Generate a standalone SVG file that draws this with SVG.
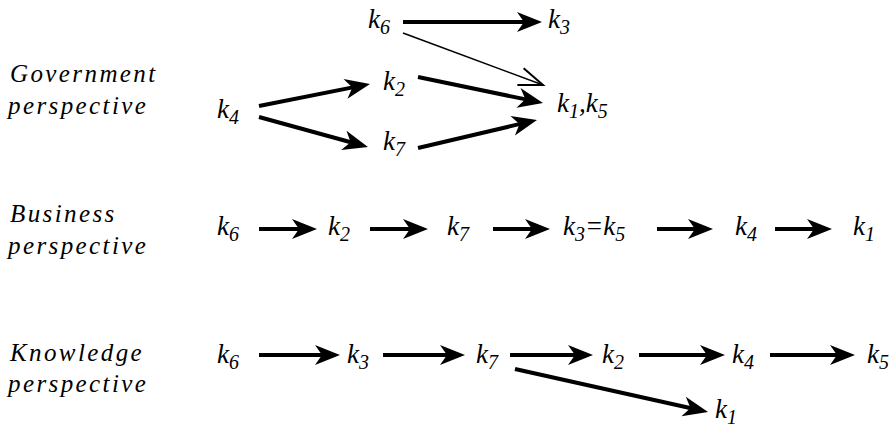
<svg xmlns="http://www.w3.org/2000/svg" width="892" height="432" viewBox="0 0 892 432">
<defs>
<marker id="ah" viewBox="-15 -12 32 24" markerWidth="32" markerHeight="24" refX="0" refY="0" markerUnits="userSpaceOnUse" orient="auto">
<path d="M15,0 L-10,-10 L-3,0 L-10,10 Z" fill="#000"/>
</marker>
<marker id="oh" viewBox="-30 -12 34 24" markerWidth="34" markerHeight="24" refX="0" refY="0" markerUnits="userSpaceOnUse" orient="auto">
<path d="M-24,-9 L0,0 L-24,9" fill="none" stroke="#000" stroke-width="2"/>
</marker>
</defs>
<rect width="892" height="432" fill="#fff"/>
<g id="labels" fill="#000">
<text x="10" y="82" font-family="Liberation Serif" font-style="italic" font-size="25" letter-spacing="2.4">Government</text>
<text x="8" y="114" font-family="Liberation Serif" font-style="italic" font-size="25" letter-spacing="2.4">perspective</text>
<text x="10" y="222" font-family="Liberation Serif" font-style="italic" font-size="25" letter-spacing="2.4">Business</text>
<text x="8" y="254" font-family="Liberation Serif" font-style="italic" font-size="25" letter-spacing="2.4">perspective</text>
<text x="10" y="361" font-family="Liberation Serif" font-style="italic" font-size="25" letter-spacing="2.4">Knowledge</text>
<text x="8" y="392" font-family="Liberation Serif" font-style="italic" font-size="25" letter-spacing="2.4">perspective</text>
</g>
<g fill="#000">
<g id="gov">
<g id="g-k6"><text x="368" y="28" font-family="Liberation Serif" font-style="italic" font-size="27">k<tspan font-size="20" dy="6">6</tspan></text></g>
<g id="g-k3"><text x="548" y="28" font-family="Liberation Serif" font-style="italic" font-size="27">k<tspan font-size="20" dy="6">3</tspan></text></g>
<g id="g-k2"><text x="383" y="90" font-family="Liberation Serif" font-style="italic" font-size="27">k<tspan font-size="20" dy="6">2</tspan></text></g>
<g id="g-k4"><text x="217" y="118" font-family="Liberation Serif" font-style="italic" font-size="27">k<tspan font-size="20" dy="6">4</tspan></text></g>
<g id="g-k7"><text x="383" y="150" font-family="Liberation Serif" font-style="italic" font-size="27">k<tspan font-size="20" dy="6">7</tspan></text></g>
<g id="g-k15"><text x="557" y="112" font-family="Liberation Serif" font-style="italic" font-size="27">k<tspan font-size="20" dy="6">1</tspan><tspan dy="-6">,k</tspan><tspan font-size="20" dy="6">5</tspan></text></g>
</g>
<g id="bus">
<g id="b-k6"><text x="217" y="235" font-family="Liberation Serif" font-style="italic" font-size="27">k<tspan font-size="20" dy="6">6</tspan></text></g>
<g id="b-k2"><text x="328" y="235" font-family="Liberation Serif" font-style="italic" font-size="27">k<tspan font-size="20" dy="6">2</tspan></text></g>
<g id="b-k7"><text x="447" y="235" font-family="Liberation Serif" font-style="italic" font-size="27">k<tspan font-size="20" dy="6">7</tspan></text></g>
<g id="b-k35"><text x="563" y="235" font-family="Liberation Serif" font-style="italic" font-size="27">k<tspan font-size="20" dy="6">3</tspan><tspan dy="-6">=k</tspan><tspan font-size="20" dy="6">5</tspan></text></g>
<g id="b-k4"><text x="735" y="235" font-family="Liberation Serif" font-style="italic" font-size="27">k<tspan font-size="20" dy="6">4</tspan></text></g>
<g id="b-k1"><text x="853" y="235" font-family="Liberation Serif" font-style="italic" font-size="27">k<tspan font-size="20" dy="6">1</tspan></text></g>
</g>
<g id="know">
<g id="n-k6"><text x="217" y="363" font-family="Liberation Serif" font-style="italic" font-size="27">k<tspan font-size="20" dy="6">6</tspan></text></g>
<g id="n-k3"><text x="347" y="363" font-family="Liberation Serif" font-style="italic" font-size="27">k<tspan font-size="20" dy="6">3</tspan></text></g>
<g id="n-k7"><text x="476" y="363" font-family="Liberation Serif" font-style="italic" font-size="27">k<tspan font-size="20" dy="6">7</tspan></text></g>
<g id="n-k2"><text x="602" y="363" font-family="Liberation Serif" font-style="italic" font-size="27">k<tspan font-size="20" dy="6">2</tspan></text></g>
<g id="n-k4"><text x="732" y="363" font-family="Liberation Serif" font-style="italic" font-size="27">k<tspan font-size="20" dy="6">4</tspan></text></g>
<g id="n-k5"><text x="867" y="363" font-family="Liberation Serif" font-style="italic" font-size="27">k<tspan font-size="20" dy="6">5</tspan></text></g>
<g id="n-k1"><text x="715" y="418" font-family="Liberation Serif" font-style="italic" font-size="27">k<tspan font-size="20" dy="6">1</tspan></text></g>
</g>
</g>
<g id="connectors" stroke="#000" fill="none">
<g stroke-width="4" marker-end="url(#ah)">
<line x1="403" y1="22" x2="527" y2="22"/>
<line x1="259" y1="106" x2="355.3" y2="86.9"/>
<line x1="259" y1="117" x2="353.5" y2="143"/>
<line x1="418" y1="77" x2="528.3" y2="99.9"/>
<line x1="418" y1="148" x2="522.4" y2="123.4"/>
<line x1="259" y1="229" x2="302" y2="229"/>
<line x1="370" y1="229" x2="413" y2="229"/>
<line x1="493" y1="229" x2="535" y2="229"/>
<line x1="657" y1="229" x2="698" y2="229"/>
<line x1="775" y1="229" x2="817" y2="229"/>
<line x1="259" y1="355" x2="325" y2="355"/>
<line x1="383" y1="355" x2="450" y2="355"/>
<line x1="510" y1="355" x2="578" y2="355"/>
<line x1="639" y1="355" x2="710" y2="355"/>
<line x1="770" y1="355" x2="840" y2="355"/>
<line x1="515" y1="369" x2="693.4" y2="408.7"/>
</g>
<line x1="403" y1="33" x2="543" y2="85" stroke-width="1.6" marker-end="url(#oh)"/>
</g>
</svg>
